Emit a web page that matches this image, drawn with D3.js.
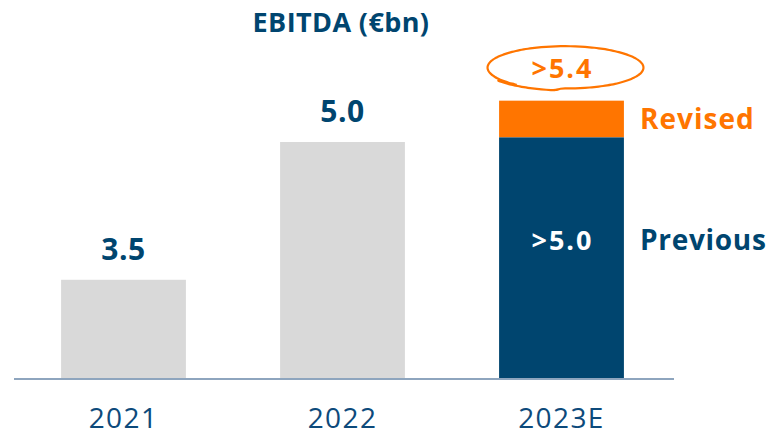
<!DOCTYPE html>
<html>
<head>
<meta charset="utf-8">
<script src="https://cdn.jsdelivr.net/npm/d3@7"></script>
<style>
  body { margin: 0; background: #fff; }
  text { font-family: "Open Sans", sans-serif; }
</style>
</head>
<body>
<div id="chart-area"></div>
<script>
// EBITDA bars, 2023E split into previous guidance + revision

var years = ["2021", "2022", "2023E"];
var actuals = [3.5, 5.0, null];          // grey bars
var actualLabels = ["3.5", "5.0", null];
var previous = 5.05;                      // ">5.0"
var revised = 5.45;                       // ">5.4"
var previousLabel = ">5.0";
var revisedLabel = ">5.4";
var title = "EBITDA (€bn)";

var width = 769, height = 436;
var blue = "#00456f", orange = "#ff7500", grey = "#d9d9d9";

var svg = d3.select("#chart-area")
  .append("svg")
  .attr("width", width)
  .attr("height", height);

var x = d3.scaleBand()
  .domain(years)
  .range([14, 671])
  .paddingInner(0.43)
  .paddingOuter(0.215);

var y = d3.scaleLinear()
  .domain([2.42, 5.0])
  .range([379, 142]);

var base = y.range()[0];

// title
svg.append("text")
  .attr("x", 341)
  .attr("y", 32)
  .attr("text-anchor", "middle")
  .attr("fill", blue)
  .attr("font-size", 27)
  .attr("font-weight", 700)
  .attr("letter-spacing", 0.4)
  .text(title);

// grey bars
var greyData = years.map(function(d, i) { return { year: d, v: actuals[i], label: actualLabels[i] }; })
  .filter(function(d) { return d.v != null; });

svg.selectAll(".bar")
  .data(greyData)
  .enter().append("rect")
  .attr("x", function(d) { return x(d.year); })
  .attr("y", function(d) { return y(d.v); })
  .attr("width", x.bandwidth())
  .attr("height", function(d) { return base - y(d.v); })
  .attr("fill", grey);

svg.selectAll(".vlabel")
  .data(greyData)
  .enter().append("text")
  .attr("x", function(d) { return x(d.year) + x.bandwidth() / 2; })
  .attr("y", function(d) { return y(d.v) - 20; })
  .attr("text-anchor", "middle")
  .attr("fill", blue)
  .attr("font-size", 30)
  .attr("font-weight", 700)
  .attr("letter-spacing", 0.5)
  .text(function(d) { return d.label; });

// 2023E stacked
var last = years[2];
var cx = x(last) + x.bandwidth() / 2;

svg.append("rect")
  .attr("x", x(last))
  .attr("y", y(revised))
  .attr("width", x.bandwidth())
  .attr("height", y(previous) - y(revised))
  .attr("fill", orange);

svg.append("rect")
  .attr("x", x(last))
  .attr("y", y(previous))
  .attr("width", x.bandwidth())
  .attr("height", base - y(previous))
  .attr("fill", blue);

svg.append("text")
  .attr("x", cx + 1)
  .attr("y", 250)
  .attr("text-anchor", "middle")
  .attr("fill", "#fff")
  .attr("font-size", 27)
  .attr("font-weight", 700)
  .attr("letter-spacing", 2)
  .text(previousLabel);

svg.append("text")
  .attr("x", cx + 1)
  .attr("y", y(revised) - 23)
  .attr("text-anchor", "middle")
  .attr("fill", orange)
  .attr("font-size", 27)
  .attr("font-weight", 700)
  .attr("letter-spacing", 2)
  .text(revisedLabel);

// hand drawn ring round the revised label
var ecx = cx + 4, ecy = y(revised) - 33, rx = 78, ry = 22;
var ring = d3.range(0, 1.06, 0.01).map(function(t) {
  var a = Math.PI * 0.72 + t * Math.PI * 2;
  var s = 1 - 0.06 * t;
  return [ecx + rx * Math.cos(a) * (t > 1 ? 1.02 : 1), ecy + ry * s * Math.sin(a) + (t > 0.9 ? 2 : 0)];
});
svg.append("path")
  .attr("d", d3.line().curve(d3.curveBasis)(ring))
  .attr("fill", "none")
  .attr("stroke", orange)
  .attr("stroke-width", 2.2)
  .attr("stroke-linecap", "round");

// legend labels beside the stack
svg.append("text")
  .attr("x", 640)
  .attr("y", 129)
  .attr("fill", orange)
  .attr("font-size", 28)
  .attr("font-weight", 700)
  .attr("letter-spacing", 1)
  .text("Revised");

svg.append("text")
  .attr("x", 640)
  .attr("y", 250)
  .attr("fill", blue)
  .attr("font-size", 28)
  .attr("font-weight", 700)
  .attr("letter-spacing", 0.7)
  .text("Previous");

// baseline
svg.append("line")
  .attr("x1", 14)
  .attr("x2", 674)
  .attr("y1", base)
  .attr("y2", base)
  .attr("stroke", "#8ea5be")
  .attr("stroke-width", 2);

// year axis
var axis = svg.append("g")
  .attr("transform", "translate(0," + base + ")")
  .call(d3.axisBottom(x).tickSize(0).tickPadding(0));
axis.select(".domain").remove();
axis.selectAll("text")
  .attr("dy", 0)
  .attr("y", 49)
  .attr("fill", "#0d4a7b")
  .attr("font-size", 28)
  .attr("letter-spacing", 1.4)
  .attr("font-family", "'Open Sans', sans-serif");
</script>
</body>
</html>
